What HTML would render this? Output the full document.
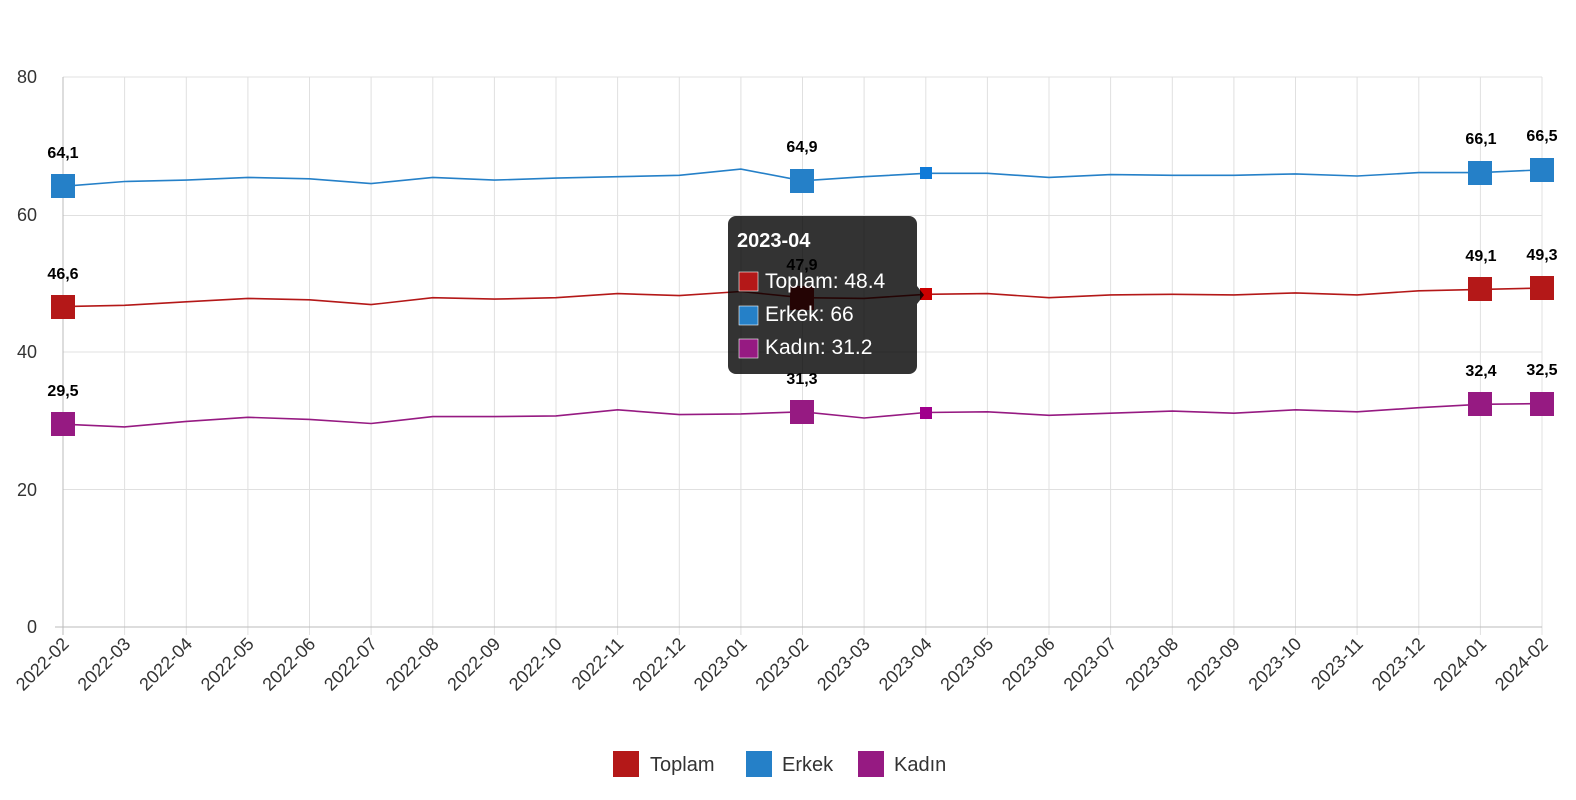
<!DOCTYPE html><html><head><meta charset="utf-8"><style>body{margin:0;background:#fff}svg{display:block;font-family:"Liberation Sans",sans-serif}</style></head><body>
<svg width="1576" height="800" xmlns="http://www.w3.org/2000/svg">
<g stroke="#e0e0e0" stroke-width="1">
<line x1="63" y1="77" x2="1542" y2="77"/><line x1="63" y1="215.5" x2="1542" y2="215.5"/><line x1="63" y1="352" x2="1542" y2="352"/><line x1="63" y1="489.5" x2="1542" y2="489.5"/>
<line x1="124.6" y1="77" x2="124.6" y2="635"/><line x1="186.3" y1="77" x2="186.3" y2="635"/><line x1="247.9" y1="77" x2="247.9" y2="635"/><line x1="309.5" y1="77" x2="309.5" y2="635"/><line x1="371.1" y1="77" x2="371.1" y2="635"/><line x1="432.8" y1="77" x2="432.8" y2="635"/><line x1="494.4" y1="77" x2="494.4" y2="635"/><line x1="556" y1="77" x2="556" y2="635"/><line x1="617.6" y1="77" x2="617.6" y2="635"/><line x1="679.3" y1="77" x2="679.3" y2="635"/><line x1="740.9" y1="77" x2="740.9" y2="635"/><line x1="802.5" y1="77" x2="802.5" y2="635"/><line x1="864.1" y1="77" x2="864.1" y2="635"/><line x1="925.8" y1="77" x2="925.8" y2="635"/><line x1="987.4" y1="77" x2="987.4" y2="635"/><line x1="1049" y1="77" x2="1049" y2="635"/><line x1="1110.6" y1="77" x2="1110.6" y2="635"/><line x1="1172.3" y1="77" x2="1172.3" y2="635"/><line x1="1233.9" y1="77" x2="1233.9" y2="635"/><line x1="1295.5" y1="77" x2="1295.5" y2="635"/><line x1="1357.1" y1="77" x2="1357.1" y2="635"/><line x1="1418.8" y1="77" x2="1418.8" y2="635"/><line x1="1480.4" y1="77" x2="1480.4" y2="635"/><line x1="1542" y1="77" x2="1542" y2="635"/>
</g>
<line x1="63" y1="77" x2="63" y2="635" stroke="#bbb"/><line x1="55" y1="627" x2="1542" y2="627" stroke="#bbb"/>
<g font-size="18" fill="#333" text-anchor="end"><text x="37" y="83">80</text><text x="37" y="221">60</text><text x="37" y="358">40</text><text x="37" y="496">20</text><text x="37" y="633">0</text></g>
<g font-size="18" fill="#333" text-anchor="end">
<text transform="translate(70,645) rotate(-45)">2022-02</text><text transform="translate(131.6,645) rotate(-45)">2022-03</text><text transform="translate(193.3,645) rotate(-45)">2022-04</text><text transform="translate(254.9,645) rotate(-45)">2022-05</text><text transform="translate(316.5,645) rotate(-45)">2022-06</text><text transform="translate(378.1,645) rotate(-45)">2022-07</text><text transform="translate(439.8,645) rotate(-45)">2022-08</text><text transform="translate(501.4,645) rotate(-45)">2022-09</text><text transform="translate(563,645) rotate(-45)">2022-10</text><text transform="translate(624.6,645) rotate(-45)">2022-11</text><text transform="translate(686.3,645) rotate(-45)">2022-12</text><text transform="translate(747.9,645) rotate(-45)">2023-01</text><text transform="translate(809.5,645) rotate(-45)">2023-02</text><text transform="translate(871.1,645) rotate(-45)">2023-03</text><text transform="translate(932.8,645) rotate(-45)">2023-04</text><text transform="translate(994.4,645) rotate(-45)">2023-05</text><text transform="translate(1056,645) rotate(-45)">2023-06</text><text transform="translate(1117.6,645) rotate(-45)">2023-07</text><text transform="translate(1179.3,645) rotate(-45)">2023-08</text><text transform="translate(1240.9,645) rotate(-45)">2023-09</text><text transform="translate(1302.5,645) rotate(-45)">2023-10</text><text transform="translate(1364.1,645) rotate(-45)">2023-11</text><text transform="translate(1425.8,645) rotate(-45)">2023-12</text><text transform="translate(1487.4,645) rotate(-45)">2024-01</text><text transform="translate(1549,645) rotate(-45)">2024-02</text>
</g>
<polyline fill="none" stroke="#2580c8" stroke-width="1.6" points="63,186.3 124.6,181.5 186.3,180.1 247.9,177.4 309.5,178.8 371.1,183.6 432.8,177.4 494.4,180.1 556,178.1 617.6,176.7 679.3,175.3 740.9,169.1 802.5,180.8 864.1,176.7 925.8,173.3 987.4,173.3 1049,177.4 1110.6,174.6 1172.3,175.3 1233.9,175.3 1295.5,173.9 1357.1,176 1418.8,172.6 1480.4,172.6 1542,169.8"/>
<polyline fill="none" stroke="#b41818" stroke-width="1.6" points="63,306.6 124.6,305.3 186.3,301.8 247.9,298.4 309.5,299.8 371.1,304.6 432.8,297.7 494.4,299.1 556,297.7 617.6,293.6 679.3,295.6 740.9,291.5 802.5,297.7 864.1,298.4 925.8,294.3 987.4,293.6 1049,297.7 1110.6,294.9 1172.3,294.3 1233.9,294.9 1295.5,292.9 1357.1,294.9 1418.8,290.8 1480.4,289.4 1542,288.1"/>
<polyline fill="none" stroke="#961a82" stroke-width="1.6" points="63,424.2 124.6,426.9 186.3,421.4 247.9,417.3 309.5,419.4 371.1,423.5 432.8,416.6 494.4,416.6 556,415.9 617.6,409.8 679.3,414.6 740.9,413.9 802.5,411.8 864.1,418 925.8,412.5 987.4,411.8 1049,415.3 1110.6,413.2 1172.3,411.1 1233.9,413.2 1295.5,409.8 1357.1,411.8 1418.8,407.7 1480.4,404.3 1542,403.6"/>
<g fill="#2580c8"><rect x="51" y="174" width="24" height="24"/><rect x="790" y="169" width="24" height="24"/><rect x="1468" y="161" width="24" height="24"/><rect x="1530" y="158" width="24" height="24"/><rect x="920" y="167" width="12" height="12" fill="#0f7ad8"/></g>
<g fill="#b41818"><rect x="51" y="295" width="24" height="24"/><rect x="790" y="286" width="24" height="24"/><rect x="1468" y="277" width="24" height="24"/><rect x="1530" y="276" width="24" height="24"/><rect x="920" y="288" width="12" height="12" fill="#c00"/></g>
<g fill="#961a82"><rect x="51" y="412" width="24" height="24"/><rect x="790" y="400" width="24" height="24"/><rect x="1468" y="392" width="24" height="24"/><rect x="1530" y="392" width="24" height="24"/><rect x="920" y="407" width="12" height="12" fill="#a0008c"/></g>
<g font-size="16" font-weight="bold" fill="#000" text-anchor="middle">
<text x="63" y="158">64,1</text><text x="802" y="152">64,9</text><text x="1481" y="144">66,1</text><text x="1542" y="141">66,5</text>
<text x="63" y="279">46,6</text><text x="802" y="270">47,9</text><text x="1481" y="261">49,1</text><text x="1542" y="260">49,3</text>
<text x="63" y="396">29,5</text><text x="802" y="384">31,3</text><text x="1481" y="376">32,4</text><text x="1542" y="375">32,5</text>
</g>
<g>
<rect x="728" y="216" width="189" height="158" rx="8" fill="rgba(0,0,0,0.8)"/>
<polygon points="917,286 924,295 917,304" fill="rgba(0,0,0,0.8)"/>
<text x="737" y="247" font-size="20" font-weight="bold" fill="#fff">2023-04</text>
<rect x="739" y="272" width="19" height="19" fill="#b41818" stroke="#fff" stroke-width="0.6"/><text x="765" y="288" font-size="21" fill="#fff">Toplam: 48.4</text>
<rect x="739" y="306" width="19" height="19" fill="#2580c8" stroke="#fff" stroke-width="0.6"/><text x="765" y="321" font-size="21" fill="#fff">Erkek: 66</text>
<rect x="739" y="339" width="19" height="19" fill="#961a82" stroke="#fff" stroke-width="0.6"/><text x="765" y="354" font-size="21" fill="#fff">Kadın: 31.2</text>
</g>
<g font-size="20" fill="#333">
<rect x="613" y="751" width="26" height="26" fill="#b41818"/><text x="650" y="771">Toplam</text>
<rect x="746" y="751" width="26" height="26" fill="#2580c8"/><text x="782" y="771">Erkek</text>
<rect x="858" y="751" width="26" height="26" fill="#961a82"/><text x="894" y="771">Kadın</text>
</g>
</svg></body></html>
